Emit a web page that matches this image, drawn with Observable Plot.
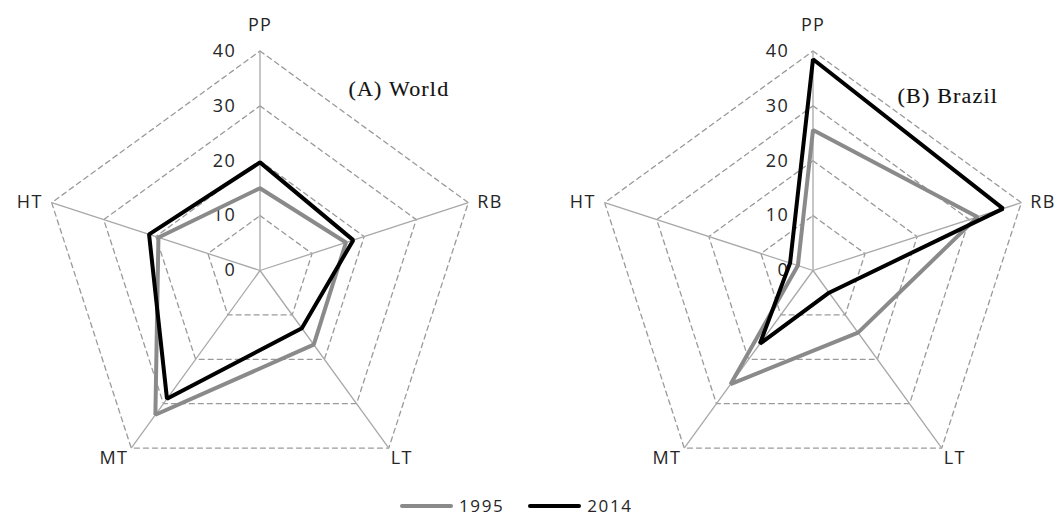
<!DOCTYPE html>
<html><head><meta charset="utf-8">
<script src="https://cdn.jsdelivr.net/npm/d3@7"></script>
<script src="https://cdn.jsdelivr.net/npm/@observablehq/plot@0.6"></script>
<style>
body{margin:0;background:#fff;font-family:"Open Sans","Liberation Sans",sans-serif;}
#chart{width:1062px;height:490px;}
#chart svg text{letter-spacing:1.3px;}
#chart svg g[font-family*="Serif"] text{letter-spacing:1.2px;}
.legend{width:1062px;height:27px;display:flex;align-items:center;padding-left:400px;padding-top:5px;box-sizing:border-box;font-size:17px;line-height:20px;letter-spacing:1.6px;color:#262626;}
.sw{display:inline-block;width:53px;height:4px;border-radius:2px;margin-right:6px;}
.item{display:flex;align-items:center;margin-right:24px;}
</style></head><body>
<div id="chart"></div>
<div class="legend" id="legend"></div>
<script>
const categories = ["PP","RB","LT","MT","HT"];
const panels = ["World","Brazil"];
const panelTitles = ["(A) World","(B) Brazil"];
const years = ["1995","2014"];
const yearColors = ["#8a8a8a","#000000"];
const world1995 = [15.0, 16.5, 16.7, 32.5, 19.5];
const world2014 = [19.7, 17.9, 13.0, 28.9, 21.3];
const brazil1995 = [25.6, 31.6, 14.0, 25.6, 2.9];
const brazil2014 = [38.5, 36.5, 5.0, 16.5, 4.4];
const ticks = [0, 10, 20, 30, 40];

const values = {World: {"1995": world1995, "2014": world2014}, Brazil: {"1995": brazil1995, "2014": brazil2014}};
const maxV = ticks[ticks.length - 1];
const ang = i => i * 2 * Math.PI / categories.length;
const px = (v, i) => v * Math.sin(ang(i));
const py = (v, i) => v * Math.cos(ang(i));

const series = [];
panels.forEach(p => years.forEach(y => categories.forEach((c, i) =>
  series.push({panel: p, year: y, cat: c, i, value: values[p][y][i]}))));
const rings = [];
panels.forEach(p => ticks.filter(t => t > 0).forEach(t => categories.forEach((c, i) =>
  rings.push({panel: p, level: t, i}))));
const spokes = panels.flatMap(p => categories.map((c, i) => ({panel: p, cat: c, i})));
const tickLabels = panels.flatMap(p => ticks.map(t => ({panel: p, t})));
const titles = panels.map((p, k) => ({panel: p, title: panelTitles[k]}));

// layout (pixels)
const W = 1062, H = 490, R = 219.5, cy = 270, mL = 10, bw = 498;
const unit = R / maxV;
const halfX = (bw / 2) / unit;
const sans = "Open Sans, Liberation Sans, sans-serif";

const catText = (cats, opts) => Plot.text(spokes.filter(d => cats.includes(d.cat)), {
  fx: "panel", x: d => px(maxV, d.i), y: d => py(maxV, d.i), text: "cat",
  fontSize: 18, fill: "#262626", fontFamily: sans, ...opts
});

const chart = Plot.plot({
  width: W, height: H,
  marginTop: 0, marginBottom: 0, marginLeft: mL, marginRight: 0,
  x: {domain: [-halfX, halfX], axis: null},
  y: {domain: [-(H - cy) / unit, cy / unit], axis: null},
  fx: {domain: panels, axis: null, paddingInner: 0.10108, paddingOuter: 0, label: null},
  marks: [
    Plot.line(rings, {fx: "panel", x: d => px(d.level, d.i), y: d => py(d.level, d.i), z: "level",
      curve: "linear-closed", stroke: "#9a9a9a", strokeWidth: 1.3, strokeDasharray: "5,4"}),
    Plot.link(spokes, {fx: "panel", x1: d => 0, y1: d => 0, x2: d => px(maxV, d.i), y2: d => py(maxV, d.i),
      stroke: "#a8a8a8", strokeWidth: 1.3}),
    Plot.text(tickLabels, {fx: "panel", x: d => 0, y: "t", text: d => String(d.t), textAnchor: "end",
      dx: -24, fontSize: 18, fill: "#262626", fontFamily: sans}),
    catText(["PP"], {dy: -26}),
    catText(["RB"], {textAnchor: "start", dx: 9}),
    catText(["HT"], {textAnchor: "end", dx: -9}),
    catText(["LT"], {textAnchor: "start", dx: 2, dy: 10}),
    catText(["MT"], {textAnchor: "end", dx: -3, dy: 10}),
    ...years.map((y, k) => Plot.line(series.filter(d => d.year === y), {
      fx: "panel", x: d => px(d.value, d.i), y: d => py(d.value, d.i),
      curve: "linear-closed", stroke: yearColors[k], strokeWidth: 4, strokeLinejoin: "miter"})),
    Plot.text(titles.filter(d => d.panel === "World"), {fx: "panel", frameAnchor: "top-left", text: "title",
      dx: 337, dy: 88, textAnchor: "start", lineAnchor: "middle", fontSize: 22, fill: "#111",
      stroke: "#111", strokeWidth: 0.15, fontFamily: "Liberation Serif, serif"}),
    Plot.text(titles.filter(d => d.panel === "Brazil"), {fx: "panel", frameAnchor: "top-left", text: "title",
      dx: 333, dy: 95, textAnchor: "start", lineAnchor: "middle", fontSize: 22, fill: "#111",
      stroke: "#111", strokeWidth: 0.15, fontFamily: "Liberation Serif, serif"})
  ]
});
document.getElementById("chart").appendChild(chart);

const legend = document.getElementById("legend");
years.forEach((y, k) => {
  const it = document.createElement("span");
  it.className = "item";
  it.innerHTML = `<span class="sw" style="background:${yearColors[k]}"></span>${y}`;
  legend.appendChild(it);
});
</script>
</body></html>
